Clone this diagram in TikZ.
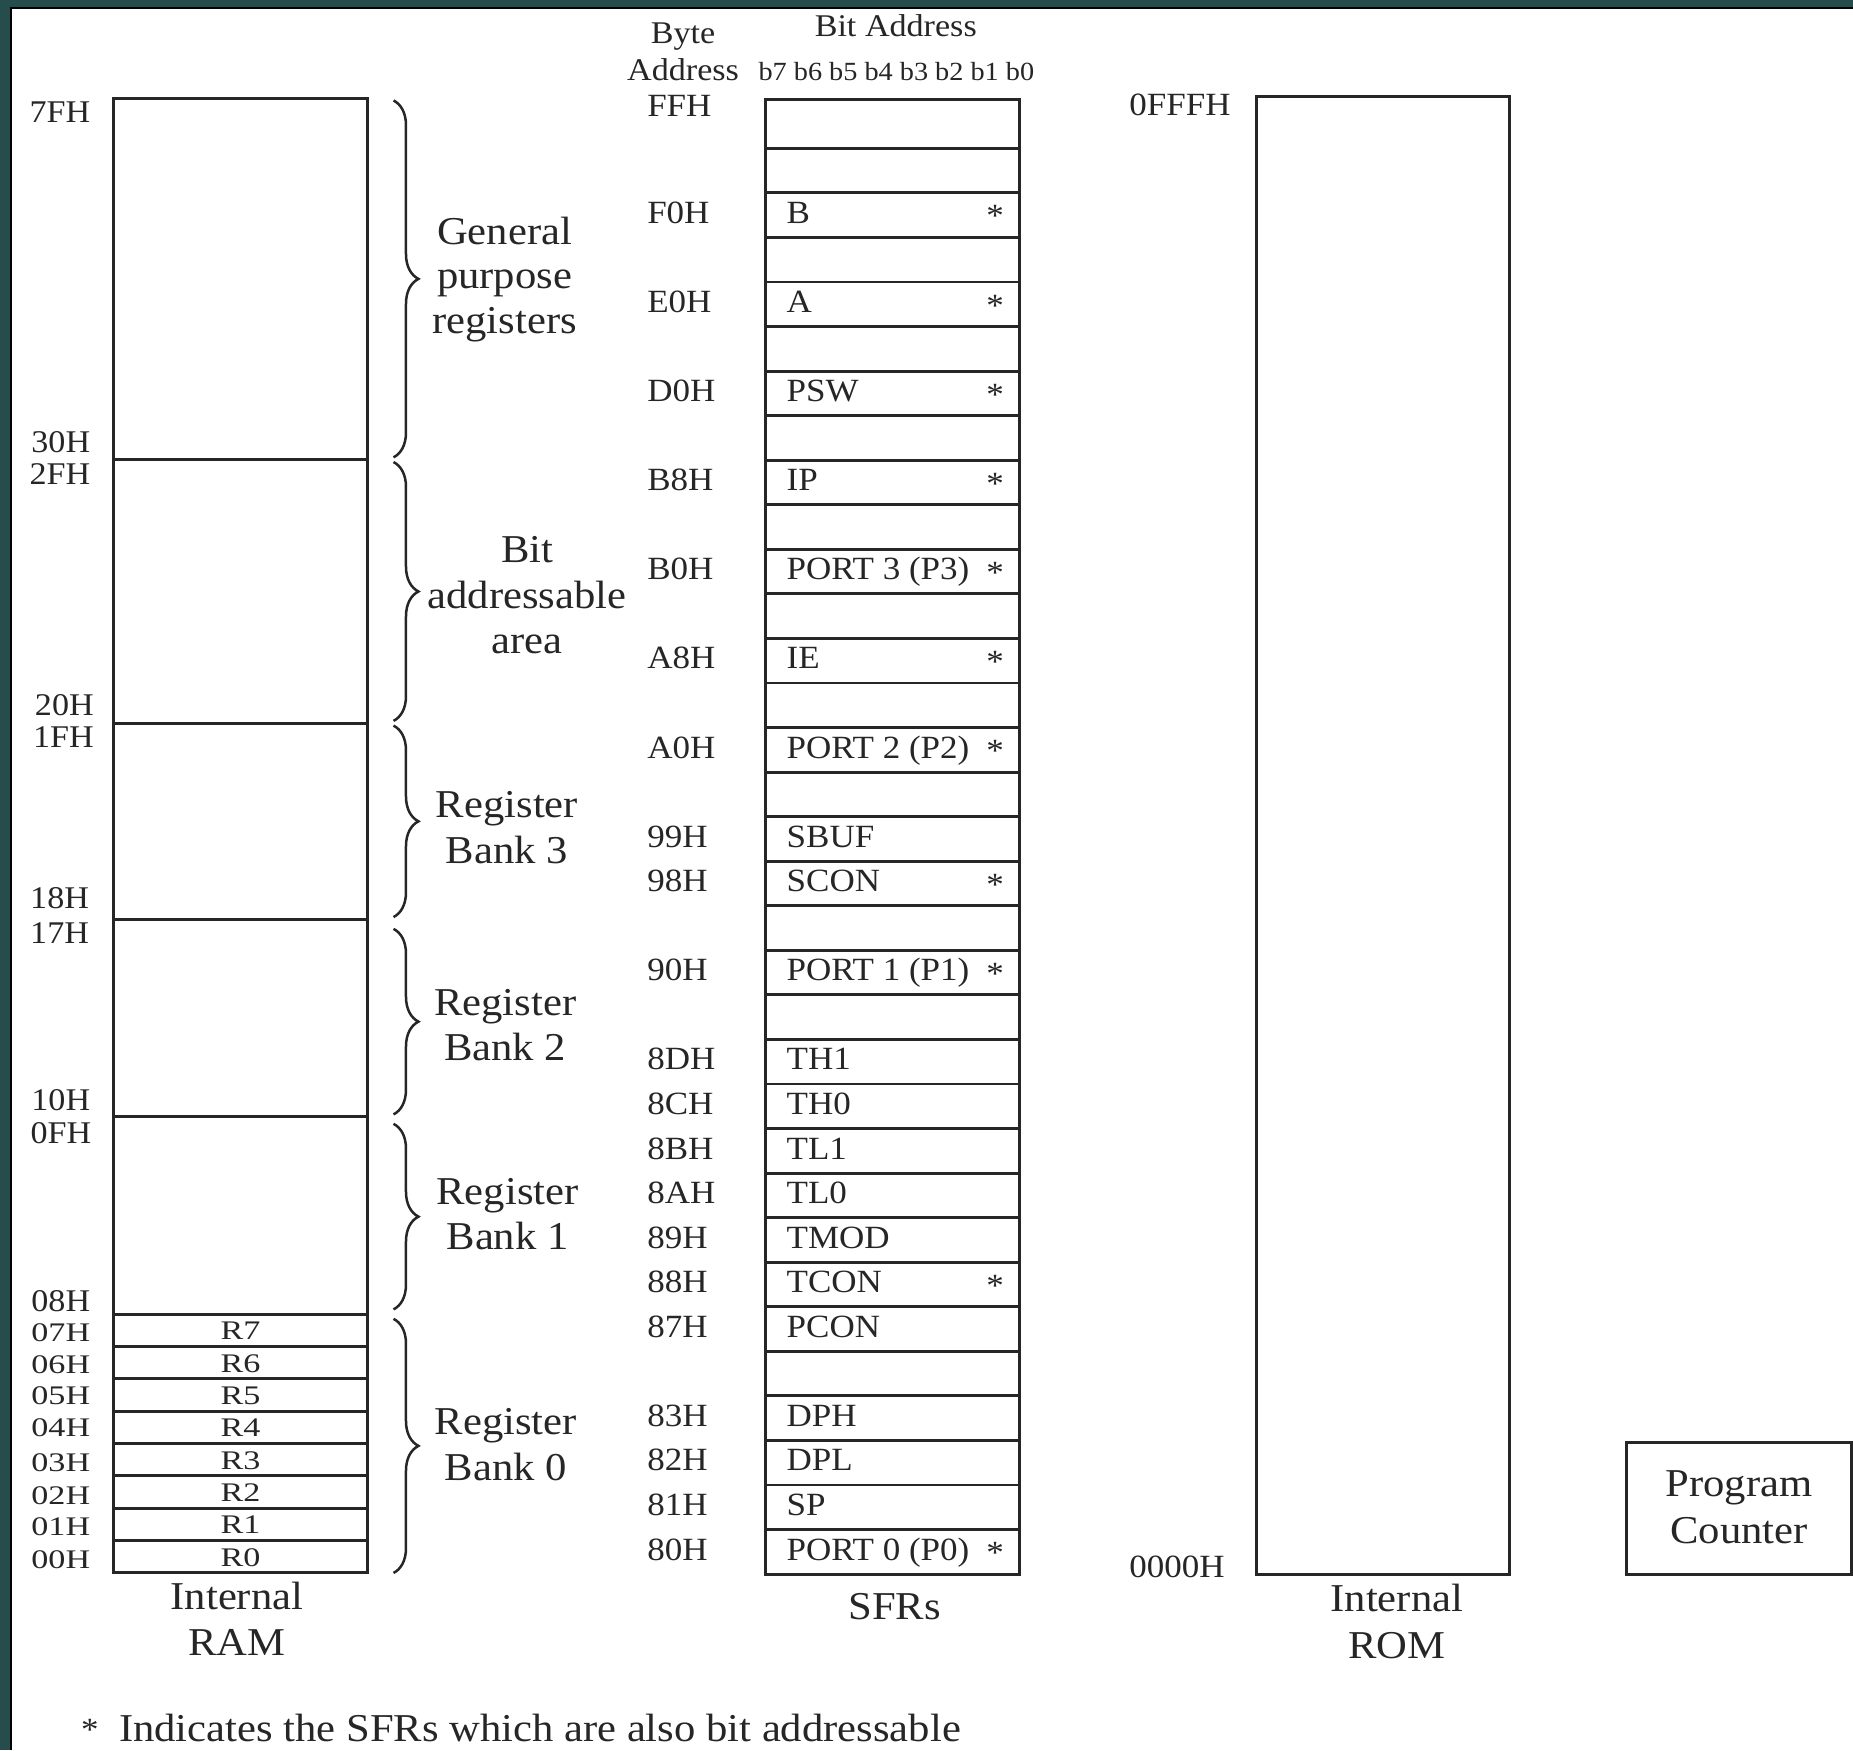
\documentclass[tikz,border=0pt]{standalone}
\usepackage{fontspec}
\setmainfont[FakeStretch=1.08]{Liberation Serif}
\usetikzlibrary{decorations.pathreplacing}
\definecolor{frameteal}{HTML}{264D4B}
\definecolor{ink}{HTML}{262626}
\begin{document}
\begin{tikzpicture}[x=0.01cm,y=-0.01cm,
  box/.style={draw=ink,line width=0.7pt},
  brc/.style={draw=ink,line width=0.6pt,decorate,decoration={brace,amplitude=6pt}},
  addr/.style={inner sep=0pt,text=ink,font=\fontsize{7.6}{9}\selectfont,text height=4.98pt,text depth=0pt},
  sq/.style={inner sep=0pt,text=ink,font=\fontsize{7.6}{9}\selectfont,text height=4.23pt,text depth=0pt},
  sfr/.style={inner sep=0pt,text=ink,font=\fontsize{7.8}{9}\selectfont,text height=5.1pt,text depth=0pt,anchor=west},
  big/.style={inner sep=0pt,text=ink,font=\fontsize{9.5}{11}\selectfont,anchor=base},
  hdr/.style={inner sep=0pt,text=ink,font=\fontsize{7.6}{9}\selectfont,anchor=base},
  bits/.style={inner sep=0pt,text=ink,font=\fontsize{6.3}{8}\selectfont,anchor=base}]

\useasboundingbox (0,0) rectangle (1568,1481);
% frame
\fill[frameteal] (0,0) rectangle (1568,1481);
\fill[white] (9.3,6.8) rectangle (1568,1481);
\draw[black,line width=0.45pt] (9.3,1481) -- (9.3,6.8) -- (1568,6.8);

% ---------------- Internal RAM ----------------
\draw[box] (96,83) rectangle (311,1331);
\foreach \y in {389,612,778,945,1112} \draw[box] (96,\y) -- (311,\y);
\foreach \i in {1,...,7} \draw[box] (96,{1112+\i*27.375}) -- (311,{1112+\i*27.375});
\foreach \n [count=\k from 0] in {7,6,5,4,3,2,1,0}
  \node[sq] (r\n) at (203.5,{1112+(\k+0.5)*27.375+0.5}) {\scalebox{1}[0.85]{R\n}};

\node[addr,anchor=east] (a7F) at (77,95) {7FH};
\node[addr,anchor=east] (a30) at (77,374) {30H};
\node[addr,anchor=east] (a2F) at (77,401) {2FH};
\node[addr,anchor=east] (a20) at (80,597) {20H};
\node[addr,anchor=east] (a1F) at (80,624) {1FH};
\node[addr,anchor=east] (a18) at (76,760) {18H};
\node[addr,anchor=east] (a17) at (76,790) {17H};
\node[addr,anchor=east] (a10) at (77,931) {10H};
\node[addr,anchor=east] (a0F) at (78,959) {0FH};
\node[addr,anchor=east] (a08) at (77,1101) {08H};
\foreach \n/\y in {07/1128,06/1155,05/1181,04/1208,03/1238,02/1266,01/1292,00/1320}
  \node[sq,anchor=east] (a\n) at (77,\y) {\scalebox{1}[0.85]{\n H}};

% braces
\draw[brc] (333,85) -- (333,387);
\draw[brc] (333,391) -- (333,610);
\draw[brc] (333,614) -- (333,776);
\draw[brc] (333,786) -- (333,943);
\draw[brc] (333,951) -- (333,1108);
\draw[brc] (333,1116) -- (333,1331);

\node[big] (gp1) at (427,207) {General};
\node[big] (gp2) at (427,244.5) {purpose};
\node[big] (gp3) at (427,282) {registers};
\node[big] (ba1) at (446,476) {Bit};
\node[big] (ba2) at (446,514.5) {addressable};
\node[big] (ba3) at (446,553) {area};
\node[big] (rb3a) at (429,692) {Register};
\node[big] (rb3b) at (429,730.5) {Bank 3};
\node[big] (rb2a) at (427.5,859) {Register};
\node[big] (rb2b) at (427.5,897.5) {Bank 2};
\node[big] (rb1a) at (429.5,1019) {Register};
\node[big] (rb1b) at (429.5,1057.5) {Bank 1};
\node[big] (rb0a) at (428,1214) {Register};
\node[big] (rb0b) at (428,1252.5) {Bank 0};
\node[big] (ram1) at (200.5,1362) {Internal};
\node[big] (ram2) at (200.5,1401) {RAM};

% ---------------- SFRs ----------------
\node[hdr] (hb1) at (578,36.7) {Byte};
\node[hdr] (hb2) at (578,67.7) {Address};
\node[hdr] (hbit) at (758,30.5) {Bit Address};
\node[bits] (hbits) at (758.5,68.3) {b7 b6 b5 b4 b3 b2 b1 b0};

\draw[box] (648,84) rectangle (863,1332);
\foreach \k in {0,...,31} \draw[box] (648,{125.5+\k*37.703}) -- (863,{125.5+\k*37.703});

\node[sfr] (aFF) at (547,90) {FFH};
\foreach \r/\nm/\ad/\st in {3/B/F0H/1,5/A/E0H/1,7/PSW/D0H/1,9/IP/B8H/1,11/PORT 3 (P3)/B0H/1,13/IE/A8H/1,15/PORT 2 (P2)/A0H/1,17/SBUF/99H/0,18/SCON/98H/1,20/PORT 1 (P1)/90H/1,22/TH1/8DH/0,23/TH0/8CH/0,24/TL1/8BH/0,25/TL0/8AH/0,26/TMOD/89H/0,27/TCON/88H/1,28/PCON/87H/0,30/DPH/83H/0,31/DPL/82H/0,32/SP/81H/0,33/PORT 0 (P0)/80H/1}{
  \pgfmathsetmacro\yc{125.5+(\r-1.5)*37.703-2}
  \node[sfr] (sfr\r) at (665,\yc) {\nm};
  \node[sfr] (adr\r) at (547,\yc) {\ad};
  \ifnum\st=1 \node[sfr,anchor=center] (st\r) at (842,\yc+3) {*};\fi
}
\node[big] (sfrs) at (757,1370) {SFRs};

% ---------------- Internal ROM ----------------
\draw[box] (1063,82) rectangle (1277,1332);
\node[sfr] (rtop) at (955,89) {0FFFH};
\node[sfr] (rbot) at (955,1326) {0000H};
\node[big] (rom1) at (1182,1364) {Internal};
\node[big] (rom2) at (1182,1403) {ROM};

% ---------------- Program Counter ----------------
\draw[box] (1376,1221) rectangle (1566.9,1332);
\node[big] (pc1) at (1471.5,1266.5) {Program};
\node[big] (pc2) at (1471.5,1305.7) {Counter};

% footnote
\node[sfr,anchor=center] (nstar) at (76,1464) {*};
\node[big,anchor=base west] (note) at (100,1474) {Indicates the SFRs which are also bit addressable};
\end{tikzpicture}
\end{document}
